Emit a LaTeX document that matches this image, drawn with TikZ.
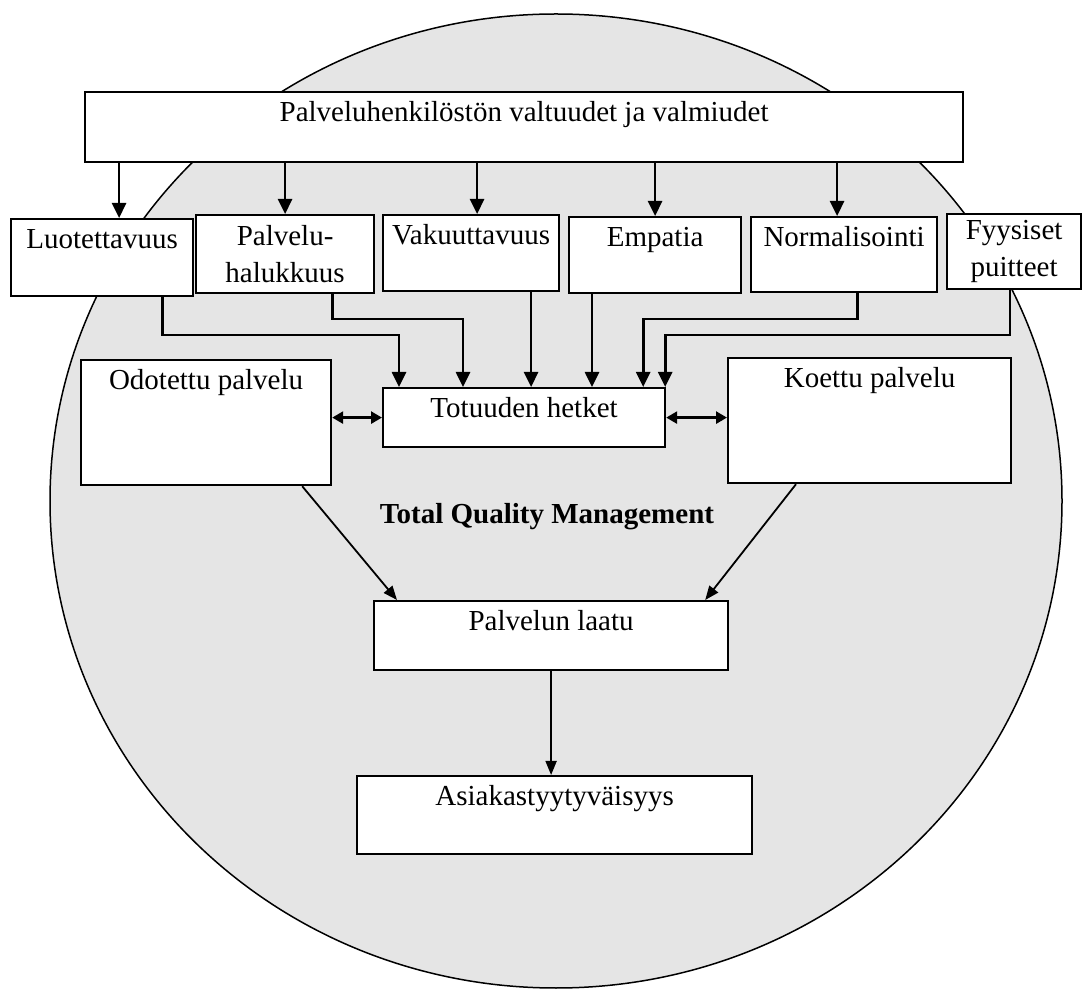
\documentclass[tikz,border=0pt]{standalone}
\usepackage{fontspec}
\setmainfont{Liberation Serif}
\usetikzlibrary{arrows.meta}
\begin{document}
\begin{tikzpicture}[x=0.5pt,y=-0.5pt,font=\fontsize{14.5}{18.5}\selectfont,
  box/.style={draw,line width=1.1pt,fill=white,inner sep=0pt,anchor=north west,text height=14.5pt},
  twobox/.style={draw,line width=1.1pt,fill=white,inner sep=0pt,anchor=north west,align=center},
  arr/.style={line width=1.3pt,-{Triangle[length=7.5pt,width=7pt]}},
  diag/.style={line width=0.9pt,-{Triangle[length=7pt,width=5.5pt]}},
  both/.style={line width=1.3pt,{Triangle[length=5.5pt,width=6pt]}-{Triangle[length=5.5pt,width=6pt]}}]
\useasboundingbox (0,0) rectangle (1083,989);
% TQM background
\draw[line width=0.75pt,fill=black!10] (556,501) ellipse [x radius=253pt,y radius=243.5pt];
% boxes
\node[box,minimum width=439pt,text depth=20.5pt] (top) at (84,91) {Palveluhenkilöstön valtuudet ja valmiudet};
\node[box,minimum width=91pt,text depth=24pt] (luot) at (10,218) {Luotettavuus};
\node[twobox,minimum width=89pt,minimum height=39pt] (pal) at (195,214) {Palvelu-\\halukkuus};
\node[box,minimum width=88pt,text depth=23.5pt] (vak) at (382,214) {Vakuuttavuus};
\node[box,minimum width=86pt,text depth=23.5pt] (emp) at (568,216) {Empatia};
\node[box,minimum width=93pt,text depth=23pt] (norm) at (750,216) {Normalisointi};
\node[twobox,minimum width=67pt,minimum height=37.5pt] (fyys) at (946,213) {Fyysiset\\puitteet};
\node[box,minimum width=125pt,text depth=48pt] (odot) at (80,359) {Odotettu palvelu};
\node[box,minimum width=141.5pt,text depth=48pt] (koet) at (727,357) {Koettu palvelu};
\node[box,minimum width=141pt,text depth=15pt] (tot) at (382,387) {Totuuden hetket};
\node[box,minimum width=177pt,text depth=20pt] (laatu) at (373,600) {Palvelun laatu};
\node[box,minimum width=197.5pt,text depth=24.5pt] (asiak) at (356,775) {Asiakastyytyväisyys};
\node[font=\fontsize{14.5}{18.5}\selectfont\bfseries] (tqm) at (547,517) {Total Quality Management};
% from top box
\draw[arr] ([xshift=8.5pt]luot.north |- top.south) -- ([xshift=8.5pt]luot.north);
\draw[arr] (pal.north |- top.south) -- (pal.north);
\draw[arr] ([xshift=3pt]vak.north |- top.south) -- ([xshift=3pt]vak.north);
\draw[arr] (emp.north |- top.south) -- (emp.north);
\draw[arr] ([xshift=-3.5pt]norm.north |- top.south) -- ([xshift=-3.5pt]norm.north);
% into Totuuden hetket
\draw[arr] ([xshift=-16pt]luot.south east) -- ++(0,38) -| ([xshift=8.5pt]tot.north west);
\draw[arr] ([xshift=-21.5pt]pal.south east) -- ++(0,25) -| ([xshift=40.5pt]tot.north west);
\draw[arr] ([xshift=30pt]vak.south) -- ([xshift=30pt]vak.south |- tot.north);
\draw[arr] ([xshift=12pt]emp.south west) -- ([xshift=12pt]emp.south west |- tot.north);
\draw[arr] ([xshift=-40.5pt]norm.south east) -- ++(0,26) -| ([xshift=-11.5pt]tot.north east);
\draw[arr] ([xshift=32pt]fyys.south west) -- ++(0,45) -| ([xshift=-0.5pt]tot.north east);
% both ways
\draw[both] (tot.west -| odot.east) -- (tot.west);
\draw[both] (tot.east) -- (tot.east -| koet.west);
% to quality and satisfaction
\draw[diag] ([xshift=-15pt]odot.south east) -- ([xshift=12pt]laatu.north west);
\draw[diag] ([xshift=34.5pt]koet.south west) -- ([xshift=-12pt]laatu.north east);
\draw[diag] (laatu.south) -- (laatu.south |- asiak.north);
\end{tikzpicture}
\end{document}
